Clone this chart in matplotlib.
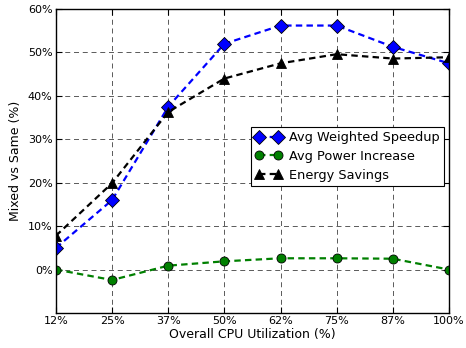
import matplotlib
matplotlib.use("Agg")
import matplotlib.pyplot as plt
from matplotlib.ticker import FuncFormatter

# Data
utilization = ["12%", "25%", "37%", "50%", "62%", "75%", "87%", "100%"]
weighted_speedup = [5.0, 16.0, 37.5, 52.0, 56.2, 56.2, 51.3, 47.5]
power_increase = [0.0, -2.4, 0.9, 1.9, 2.6, 2.6, 2.5, 0.0]
energy_savings = [7.8, 19.9, 36.3, 44.0, 47.5, 49.6, 48.6, 48.9]

x = list(range(len(utilization)))
dash = (0, (2.9, 1.9))

fig = plt.figure(figsize=(4.66, 3.48), dpi=100)
ax = fig.add_axes([0.120, 0.1006, 0.8435, 0.8734])

ax.plot(x, weighted_speedup, linestyle=dash, color="#0000ff", lw=1.6, marker="D",
        ms=7, mfc="#0000ff", mec="black", mew=0.6, label="Avg Weighted Speedup")
ax.plot(x, power_increase, linestyle=dash, color="#008000", lw=1.6, marker="o",
        ms=6.5, mfc="#008000", mec="black", mew=0.6, label="Avg Power Increase")
ax.plot(x, energy_savings, linestyle=dash, color="black", lw=1.6, marker="^",
        ms=6.5, mfc="black", mec="black", mew=0.6, label="Energy Savings")

ax.set_xlim(0, len(utilization) - 1)
ax.set_ylim(-10, 60)
ax.set_xticks(x)
ax.set_xticklabels(utilization)
ax.set_yticks(range(0, 61, 10))
ax.yaxis.set_major_formatter(FuncFormatter(lambda v, p: "%d%%" % v))

ax.grid(True, color="black", linestyle=(0, (6, 4.5)), linewidth=0.6, alpha=0.75)
ax.tick_params(direction="in", length=4, width=0.8, top=True, right=True,
               labelsize=8, pad=2.5)
for s in ax.spines.values():
    s.set_linewidth(1.0)

ax.set_xlabel("Overall CPU Utilization (%)", fontsize=9, labelpad=1)
ax.set_ylabel("Mixed vs Same (%)", fontsize=9, labelpad=4)

leg = ax.legend(loc="upper right", bbox_to_anchor=(0.988, 0.613),
                borderaxespad=0, numpoints=2, fontsize=9.3, fancybox=False,
                framealpha=1, edgecolor="black", handlelength=2.0,
                labelspacing=0.45, handletextpad=0.6, borderpad=0.35)
leg.get_frame().set_linewidth(0.8)

fig.savefig("out.png", dpi=100)
